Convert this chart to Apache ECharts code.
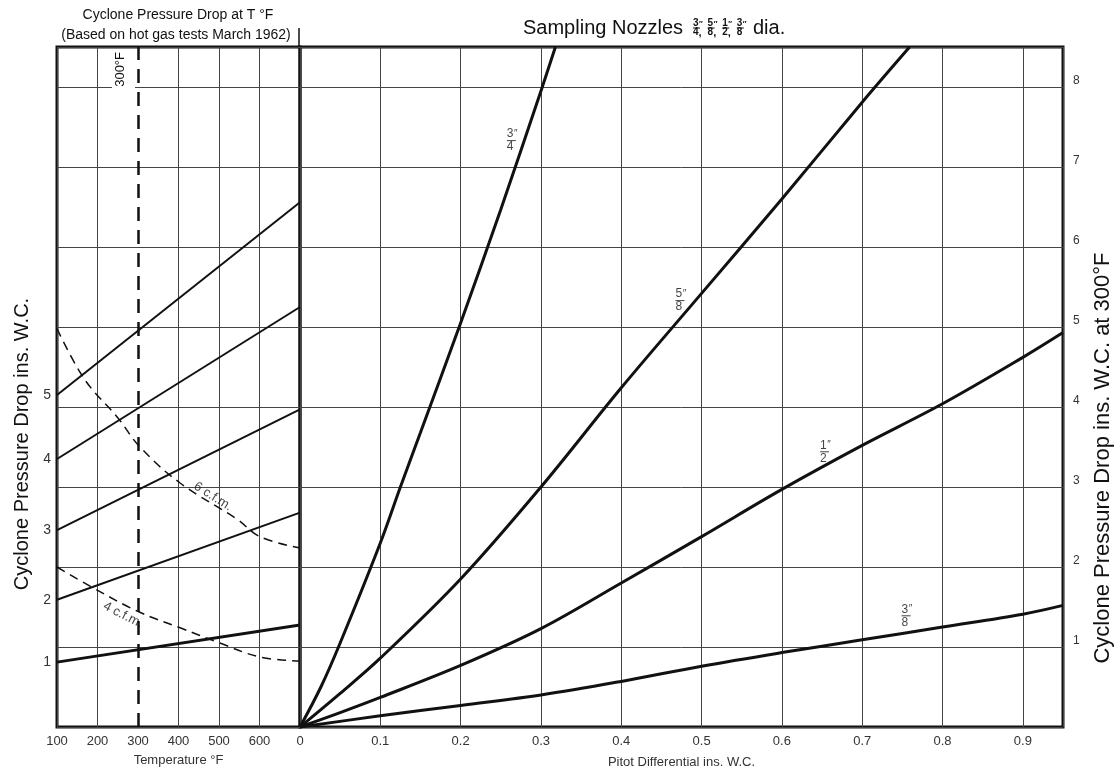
<!DOCTYPE html>
<html><head><meta charset="utf-8">
<script src="https://cdn.jsdelivr.net/npm/echarts@6/dist/echarts.min.js"></script>
<style>html,body{margin:0;padding:0;background:#fff}#c{width:1118px;height:774px}</style>
</head><body><div id="c"></div>
<script>
// ---------- data ----------
const tempMin = 100, tempMax = 700, tempStep = 100;
const pitotMin = 0, pitotMax = 0.95, pitotStep = 0.1;
const dropMax = 8.5;
const refTemp = 300;

// Left panel: pressure drop vs temperature lines [T °F, drop]
const lineN1 = [[100, 0.81], [700, 1.275]];
const lineN2 = [[100, 1.59], [700, 2.68]];
const lineN3 = [[100, 2.46], [700, 3.97]];
const lineN4 = [[100, 3.35], [700, 5.25]];
const lineN5 = [[100, 4.15], [700, 6.56]];
const leftLines = [lineN1, lineN2, lineN3, lineN4, lineN5];
const leftAxisLabels = ['1', '2', '3', '4', '5'];

// dashed flow-rate curves
const cfm6 = [[100, 4.98], [169, 4.34], [251, 3.86], [305, 3.5], [404, 3.05], [544, 2.6], [601, 2.38], [698, 2.24]];
const cfm4 = [[100, 2.0], [189, 1.74], [302, 1.44], [404, 1.24], [502, 1.05], [601, 0.875], [698, 0.825]];
const cfmNames = ['6 c.f.m.', '4 c.f.m.'];
const cfmLabelAt = [[485, 2.88], [263, 1.40]];

// Right panel: nozzle curves [pitot diff, drop at 300°F]
const nozzle34 = [[0, 0], [0.026, 0.5], [0.05, 1.05], [0.1, 2.3], [0.125, 3.0], [0.15, 3.68], [0.2, 5.05], [0.25, 6.47], [0.3, 7.95], [0.318, 8.5]];
const nozzle58 = [[0, 0], [0.05, 0.42], [0.1, 0.86], [0.2, 1.85], [0.3, 3.0], [0.4, 4.24], [0.5, 5.42], [0.6, 6.6], [0.7, 7.81], [0.759, 8.5]];
const nozzle12 = [[0, 0], [0.05, 0.18], [0.1, 0.37], [0.2, 0.77], [0.3, 1.23], [0.4, 1.8], [0.5, 2.38], [0.6, 2.97], [0.7, 3.52], [0.8, 4.04], [0.9, 4.62], [0.95, 4.93]];
const nozzle38 = [[0, 0], [0.1, 0.14], [0.2, 0.27], [0.3, 0.4], [0.4, 0.57], [0.5, 0.76], [0.6, 0.93], [0.7, 1.09], [0.8, 1.25], [0.9, 1.41], [0.95, 1.52]];
const nozzles = [nozzle34, nozzle58, nozzle12, nozzle38];
const nozzleNames = ['3/4', '5/8', '1/2', '3/8'];
const nozzleLabelAt = [[0.2575, 7.33], [0.4675, 5.33], [0.6475, 3.44], [0.749, 1.39]];

// ---------- styles ----------
const FONT = '"Liberation Sans", Arial, Helvetica, sans-serif';
const INK = '#111';
const GRID = '#444';
const cfmRotate = [-32, -27];
const leftLineWidths = [2.8, 2, 2, 2, 2];

const leftLabelVals = leftLines.map(l => l[0][1]);

function fracRich(name, withComma) {
  const [a, b] = name.split('/');
  return '{n|' + a + '}{p|\u2033}\n{b| }\n{d|' + b + '}' + (withComma ? '{c|,}' : '');
}

const chart = echarts.init(document.getElementById('c'), null, {renderer: 'canvas'});

const series = [];
leftLines.forEach((d, i) => series.push({
  type: 'line', xAxisIndex: 0, yAxisIndex: 0, data: d, symbol: 'none',
  lineStyle: {color: INK, width: leftLineWidths[i]}, silent: true, z: 3
}));
[cfm6, cfm4].forEach(d => series.push({
  type: 'line', xAxisIndex: 0, yAxisIndex: 0, data: d, symbol: 'none', smooth: 0.4,
  lineStyle: {color: INK, width: 1.5, type: [9, 6]}, silent: true, z: 3
}));
series.push({
  type: 'scatter', xAxisIndex: 0, yAxisIndex: 0, symbolSize: 0, silent: true, z: 5,
  data: cfmLabelAt.map((p, i) => ({value: p, name: cfmNames[i], label: {rotate: cfmRotate[i]}})),
  label: {show: true, position: 'inside', formatter: p => p.name, fontFamily: FONT, fontSize: 13, color: INK}
});
series.push({
  type: 'line', xAxisIndex: 0, yAxisIndex: 0, data: [], silent: true,
  markLine: {
    symbol: 'none', silent: true, animation: false,
    data: [{xAxis: refTemp}],
    lineStyle: {color: INK, width: 2.5, type: [14, 9]},
    label: {
      show: true, position: 'insideEndTop', formatter: refTemp + '°F',
      fontFamily: FONT, fontSize: 13, color: INK, distance: 3,
      backgroundColor: '#fff', padding: [2, 2, 8, 2]
    }
  }
});
nozzles.forEach(d => series.push({
  type: 'line', xAxisIndex: 1, yAxisIndex: 1, data: d, symbol: 'none', smooth: 0.35,
  lineStyle: {color: INK, width: 3}, silent: true, z: 3
}));
series.push({
  type: 'scatter', xAxisIndex: 1, yAxisIndex: 1, symbolSize: 0, silent: true, z: 5,
  data: nozzleLabelAt.map((p, i) => ({value: p, name: nozzleNames[i]})),
  label: {
    show: true, position: 'right', distance: 0, align: 'left',
    formatter: p => fracRich(p.name, false),
    rich: {
      n: {fontFamily: FONT, fontSize: 12, lineHeight: 11, color: INK},
      p: {fontFamily: FONT, fontSize: 10, lineHeight: 11, color: INK, fontStyle: 'italic'},
      b: {width: 9, height: 1, backgroundColor: INK, lineHeight: 2, fontSize: 1},
      d: {fontFamily: FONT, fontSize: 12, lineHeight: 11, color: INK}
    }
  }
});

// title fractions
const titleFrac = nozzleNames.map((nm, i) => ({
  type: 'text', x: 693 + i * 14.6, y: 28,
  style: {
    text: fracRich(nm, i < nozzleNames.length - 1), textAlign: 'left', textVerticalAlign: 'middle',
    rich: {
      n: {fontFamily: FONT, fontSize: 10, fontWeight: 'bold', lineHeight: 7.5, fill: INK},
      p: {fontFamily: FONT, fontSize: 8, lineHeight: 7.5, fontWeight: 'bold', fill: INK, fontStyle: 'italic'},
      b: {width: 7, height: 1, backgroundColor: INK, lineHeight: 1.5, fontSize: 1},
      d: {fontFamily: FONT, fontSize: 10, fontWeight: 'bold', lineHeight: 7.5, fill: INK},
      c: {fontFamily: FONT, fontSize: 11, fontWeight: 'bold', lineHeight: 7.5, fill: INK}
    }
  }
}));

const option = {
  backgroundColor: '#fff',
  animation: false,
  grid: [
    {left: 57, top: 47, width: 243, height: 680, show: true, borderColor: INK, borderWidth: 3},
    {left: 300, top: 47, width: 763, height: 680, show: true, borderColor: INK, borderWidth: 3}
  ],
  xAxis: [
    {
      type: 'value', gridIndex: 0, min: tempMin, max: tempMax, interval: tempStep,
      axisLine: {show: false}, axisTick: {show: false},
      axisLabel: {fontFamily: FONT, fontSize: 13, color: '#333', margin: 8,
        formatter: v => (v >= tempMax ? '' : String(v))},
      splitLine: {show: true, lineStyle: {width: 1, color: [GRID, GRID, 'rgba(0,0,0,0)', GRID, GRID, GRID, GRID]}},
      name: 'Temperature °F', nameLocation: 'middle', nameGap: 27,
      nameTextStyle: {fontFamily: FONT, fontSize: 13, color: '#333'}
    },
    {
      type: 'value', gridIndex: 1, min: pitotMin, max: pitotMax, interval: pitotStep,
      axisLine: {show: false}, axisTick: {show: false},
      axisLabel: {fontFamily: FONT, fontSize: 13, color: '#333', margin: 8,
        formatter: v => (v > 0.91 ? '' : String(+v.toFixed(1)))},
      splitLine: {show: true, lineStyle: {width: 1, color: GRID}},
      name: 'Pitot Differential ins. W.C.', nameLocation: 'middle', nameGap: 29,
      nameTextStyle: {fontFamily: FONT, fontSize: 13, color: '#333'}
    }
  ],
  yAxis: [
    {
      type: 'value', gridIndex: 0, min: 0, max: dropMax, interval: 1,
      axisLine: {show: false}, axisTick: {show: false},
      axisLabel: {fontFamily: FONT, fontSize: 14, color: '#333', margin: 6,
        customValues: leftLabelVals,
        formatter: v => { const i = leftLabelVals.findIndex(x => Math.abs(x - v) < 1e-6); return i >= 0 ? leftAxisLabels[i] : ''; }},
      splitLine: {show: true, lineStyle: {width: 1, color: GRID}}
    },
    {
      type: 'value', gridIndex: 1, min: 0, max: dropMax, interval: 1, position: 'right',
      axisLine: {show: false}, axisTick: {show: false},
      axisLabel: {fontFamily: FONT, fontSize: 12, color: '#333', margin: 10, verticalAlign: 'bottom',
        formatter: v => (v >= 1 && v <= 8 && Number.isInteger(v) ? String(v) : '')},
      splitLine: {show: true, lineStyle: {width: 1, color: GRID}}
    }
  ],
  graphic: [
    {type: 'text', x: 178, y: 15, style: {text: 'Cyclone Pressure Drop at T °F', font: '14px ' + FONT, fill: INK, textAlign: 'center', textVerticalAlign: 'middle'}},
    {type: 'text', x: 176, y: 35, style: {text: '(Based on hot gas tests March 1962)', font: '14px ' + FONT, fill: INK, textAlign: 'center', textVerticalAlign: 'middle'}},
    {type: 'line', shape: {x1: 299, y1: 28, x2: 299, y2: 47}, style: {stroke: INK, lineWidth: 1.5}},
    {type: 'text', x: 523, y: 28, style: {text: 'Sampling Nozzles', font: '20px ' + FONT, fill: INK, textAlign: 'left', textVerticalAlign: 'middle'}},
    ...titleFrac,
    {type: 'text', x: 753, y: 28, style: {text: 'dia.', font: '20px ' + FONT, fill: INK, textAlign: 'left', textVerticalAlign: 'middle'}},
    {type: 'text', x: 22, y: 444, rotation: Math.PI / 2, style: {text: 'Cyclone Pressure Drop ins. W.C.', font: '20px ' + FONT, fill: INK, textAlign: 'center', textVerticalAlign: 'middle'}},
    {type: 'text', x: 1103, y: 458, rotation: Math.PI / 2, style: {text: 'Cyclone Pressure Drop ins. W.C. at 300°F', font: '22px ' + FONT, fill: INK, textAlign: 'center', textVerticalAlign: 'middle'}}
  ],
  series: series
};
chart.setOption(option);
</script>
</body></html>
